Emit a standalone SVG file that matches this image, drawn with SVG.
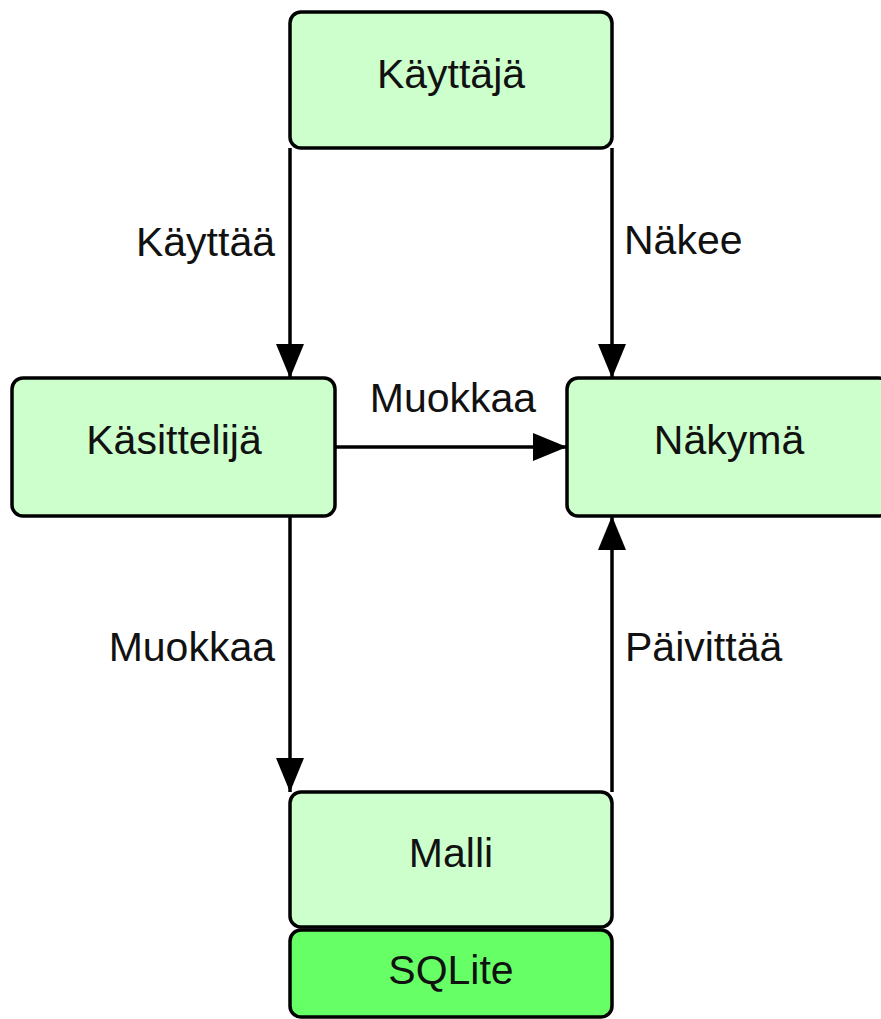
<svg xmlns="http://www.w3.org/2000/svg" width="881" height="1019" viewBox="0 0 881 1019">
  <style>
    .node rect { stroke: #000; stroke-width: 3.5; }
    .light { fill: #ccffcc; }
    .dark { fill: #66ff66; }
    text { font-family: "Liberation Sans", Arial, sans-serif; font-size: 41px; fill: #111; }
    .c { text-anchor: middle; }
    .e { text-anchor: end; }
    .edge { stroke: #000; stroke-width: 3.5; fill: none; }
  </style>
  <defs>
    <marker id="arr" viewBox="0 0 34 28" refX="34" refY="14" markerWidth="34" markerHeight="28" markerUnits="userSpaceOnUse" orient="auto">
      <path d="M0,0 L34,14 L0,28 Z" fill="#000"/>
    </marker>
  </defs>
  <rect width="881" height="1019" fill="#fff"/>
  <g id="connectors">
    <path class="edge" d="M290,148 L290,378" marker-end="url(#arr)"/>
    <path class="edge" d="M612,148 L612,378" marker-end="url(#arr)"/>
    <path class="edge" d="M335,447 L567,447" marker-end="url(#arr)"/>
    <path class="edge" d="M290,516 L290,792" marker-end="url(#arr)"/>
    <path class="edge" d="M612,792 L612,516" marker-end="url(#arr)"/>
    <text class="e" x="275" y="256">Käyttää</text>
    <text x="624" y="254">Näkee</text>
    <text class="c" x="453" y="412">Muokkaa</text>
    <text class="e" x="275" y="661">Muokkaa</text>
    <text x="625" y="661">Päivittää</text>
  </g>
  <g id="kayttaja" class="node">
    <rect class="light" x="290" y="12" width="322" height="136" rx="11"/>
    <text class="c" x="451" y="88">Käyttäjä</text>
  </g>
  <g id="kasittelija" class="node">
    <rect class="light" x="12" y="378" width="323" height="138" rx="11"/>
    <text class="c" x="174" y="454">Käsittelijä</text>
  </g>
  <g id="nakyma" class="node">
    <rect class="light" x="567" y="378" width="323" height="138" rx="11"/>
    <text class="c" x="729" y="454">Näkymä</text>
  </g>
  <g id="malli" class="node">
    <rect class="light" x="290" y="792" width="322" height="135" rx="11"/>
    <text class="c" x="451" y="867">Malli</text>
  </g>
  <g id="sqlite" class="node">
    <rect class="dark" x="290" y="930" width="322" height="87" rx="11"/>
    <text class="c" x="451" y="984">SQLite</text>
  </g>
</svg>
